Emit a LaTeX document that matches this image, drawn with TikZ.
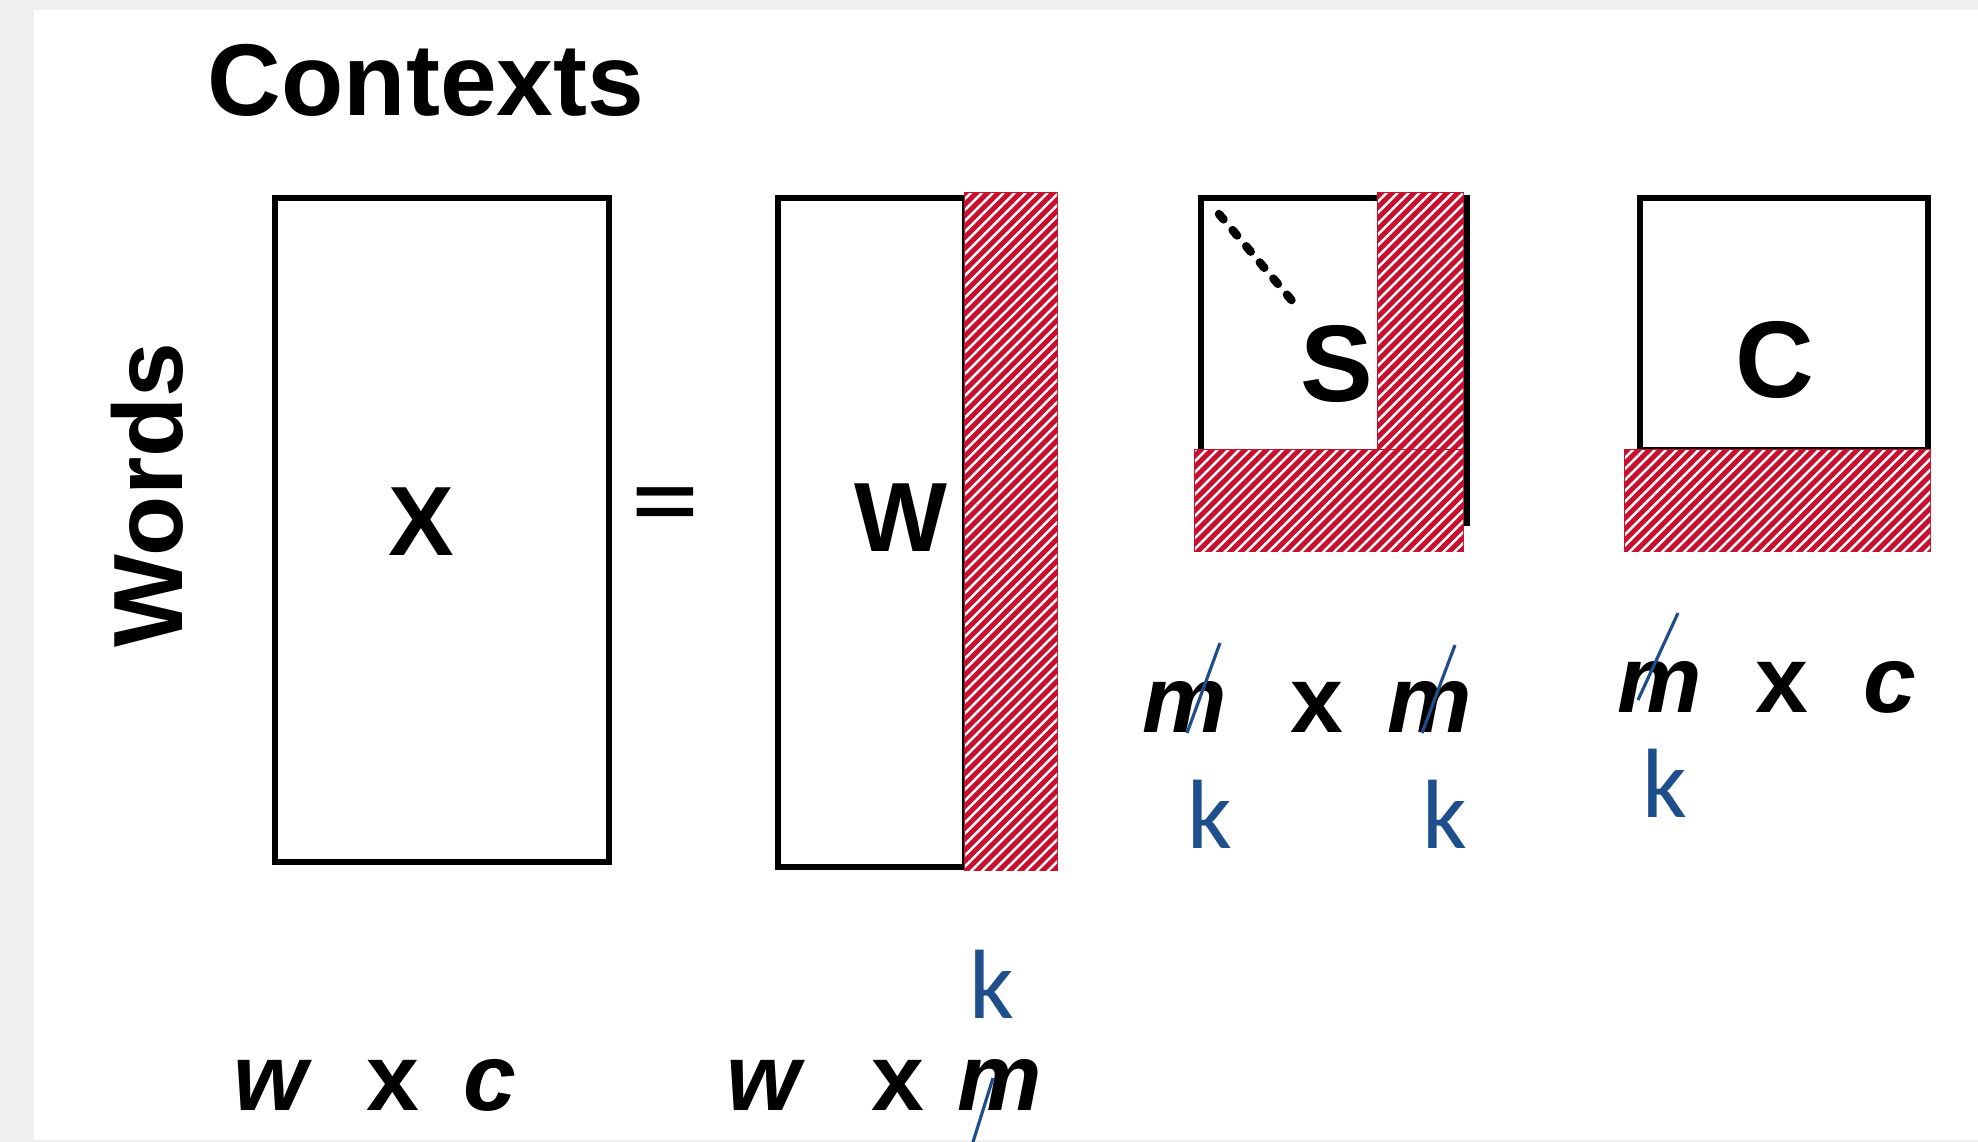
\documentclass[tikz,border=0pt]{standalone}
\usepackage{fontspec}
\setmainfont{Liberation Sans}
\newfontfamily\kfont{Carlito}
\usepackage{xcolor}
\usepackage{tikz}
\usetikzlibrary{positioning,patterns.meta}

\definecolor{hatchred}{RGB}{200,16,46}
\definecolor{kblue}{RGB}{31,78,140}

\tikzset{
  mat/.style={draw=black, line width=1.8pt},
  band/.style={fill=hatchred, draw=hatchred, line width=0.3pt,
    postaction={pattern={Lines[angle=45,distance=2.2pt,line width=0.7pt]}, pattern color=white}},
  big/.style={font=\fontsize{28}{30}\selectfont\bfseries, anchor=base, inner sep=0pt},
  dim/.style={font=\fontsize{27}{30}\selectfont\bfseries\itshape, anchor=base, inner sep=0pt},
  times/.style={font=\fontsize{27}{30}\selectfont\bfseries, anchor=base, inner sep=0pt},
  rank/.style={font=\fontsize{28}{30}\selectfont\kfont, text=kblue, anchor=base, inner sep=0pt},
  cut/.style={kblue, line width=0.9pt},
}

\begin{document}
\begin{tikzpicture}[x=0.01cm, y=-0.01cm]
    % page
    \fill[gray!12] (0,0) rectangle (1978,1142);
    \fill[white] (34,10) rectangle (1978,1140);
    \useasboundingbox (0,0) rectangle (1978,1142);

    % axis labels
    \node[big, font=\fontsize{29}{30}\selectfont\bfseries] (contexts) at (426,115) {Contexts};
    \node[big, rotate=90] (words) at (182,495) {Words};

    % X
    \draw[mat] (275,198) rectangle (609,862);
    \node[big] (xname) at (421,555) {X};
    \node[font=\fontsize{32}{32}\selectfont\bfseries] (eq) at (665,508) {\scalebox{1}[0.68]{=}};

    % W with its k columns
    \draw[mat] (778,198) rectangle (965,867);
    \fill[band] (965,193) rectangle (1057,870);
    \node[big] (wname) at (901,551) {W};

    % S with its k rows and columns
    \draw[mat] (1201,198) rectangle (1467,523);
    \fill[band] (1378,193) rectangle (1463,551);
    \fill[band] (1195,450) rectangle (1463,551);
    \draw[line width=2.4pt, line cap=round, dash pattern=on 2pt off 4pt] (1219,214) -- (1299,309);
    \node[big, font=\fontsize{31}{32}\selectfont\bfseries] (sname) at (1337,401) {S};

    % C with its k rows
    \draw[mat] (1640,198) rectangle (1928,450);
    \fill[band] (1625,450) rectangle (1930,551);
    \node[big, font=\fontsize{31}{32}\selectfont\bfseries] (cname) at (1775,397) {C};

    % sizes of S
    \node[dim] (sm1) at (1185,732) {m};
    \node[times] (sx) at (1317,732) {x};
    \node[dim] (sm2) at (1430,732) {m};
    \draw[cut] (1220,643) -- (1187,733);
    \draw[cut] (1455,645) -- (1422,733);
    \node[rank] (sk1) at (1210,848) {k};
    \node[rank] (sk2) at (1445,848) {k};

    % sizes of C
    \node[dim] (cm) at (1660,712) {m};
    \node[times] (cx) at (1782,712) {x};
    \node[dim] (cc) at (1890,712) {c};
    \draw[cut] (1678,613) -- (1638,700);
    \node[rank] (ck) at (1665,817) {k};

    % sizes of X
    \node[dim] (xw) at (270,1110) {w};
    \node[times] (xx) at (393,1110) {x};
    \node[dim] (xc) at (490,1110) {c};

    % sizes of W
    \node[dim] (ww) at (763,1110) {w};
    \node[times] (wx) at (898,1110) {x};
    \node[dim] (wm) at (1000,1110) {m};
    \draw[cut] (993,1078) -- (973,1142);
    \node[rank] (wk) at (992,1018) {k};
\end{tikzpicture}
\end{document}
